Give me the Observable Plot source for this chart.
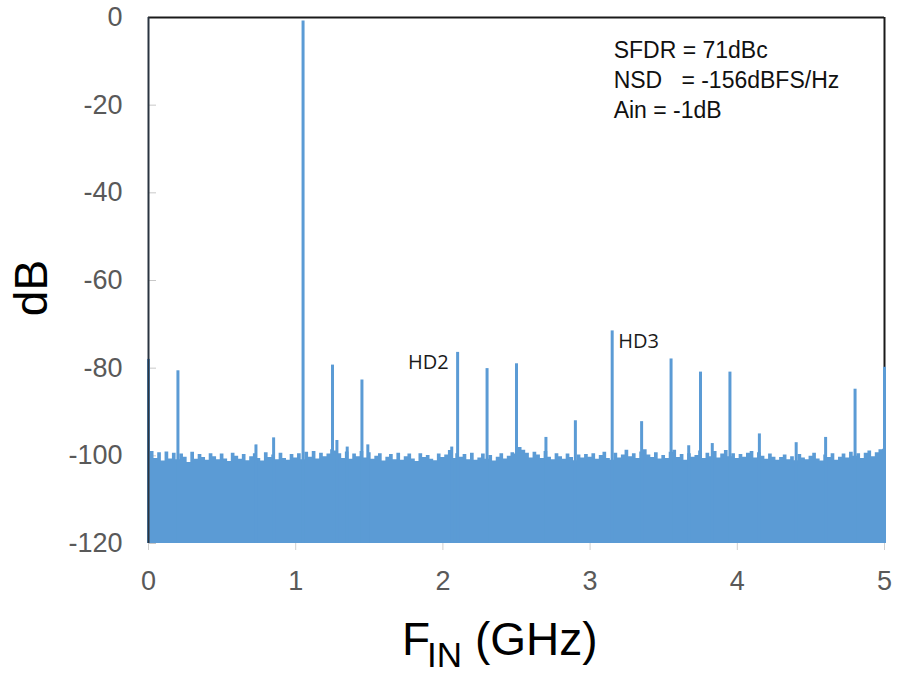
<!DOCTYPE html>
<html><head><meta charset="utf-8">
<script src="https://cdn.jsdelivr.net/npm/d3@7"></script>
<script src="https://cdn.jsdelivr.net/npm/@observablehq/plot@0.6"></script>
<style>
html,body{margin:0;padding:0;background:#fff;}
#chart{width:900px;height:692px;}
</style></head><body><div id="chart"></div>
<script>
// Spurs (tones) : frequency in GHz and level in dB
const spurFreqGHz = [0, 0.2, 0.73, 0.85, 1.05, 1.25, 1.28, 1.35, 1.45, 1.49, 2.06, 2.1, 2.3, 2.5, 2.7, 2.9, 3.15, 3.35, 3.55, 3.67, 3.75, 3.83, 3.95, 4.15, 4.4, 4.6, 4.8, 5];
const spurLevelDb = [-78, -80.6, -97.5, -95.9, -0.8, -79.3, -96.5, -98, -82.7, -97.5, -98, -76.4, -80.1, -79, -95.8, -92, -71.5, -92.2, -77.9, -97.7, -80.9, -97.2, -80.9, -95, -97, -95.8, -84.8, -79.8];

// Noise floor, one reading every 0.025 GHz from 0 to 5 GHz
const noiseStepGHz = 0.025;
const noiseLevelDb = [
  -96.5, -99.0, -100.6, -99.3, -101.2, -99.1, -100.7, -99.4, -100.9, -99.6, -100.3, -101.5, -99.2, -100.8, -99.7, -100.4, -101.0, -99.5, -100.2, -100.9,
  -99.6, -100.7, -101.3, -99.4, -100.1, -100.8, -99.7, -101.1, -100.2, -99.5, -100.6, -101.2, -99.3, -100.4, -99.8, -100.9, -99.4, -100.6, -101.0, -99.7,
  -100.5, -99.5, -100.9, -99.2, -100.3, -99.0, -100.7, -99.4, -100.2, -99.6, -98.6, -98.9, -99.5, -100.6, -99.1, -100.8, -99.6, -100.2, -99.0, -100.5,
  -99.3, -100.8, -100.1, -99.5, -101.2, -100.3, -99.7, -100.9, -99.4, -101.0, -100.2, -99.6, -100.7, -101.3, -99.5, -100.4, -99.9, -100.8, -101.1, -99.6,
  -100.4, -99.8, -98.8, -100.6, -99.5, -100.3, -99.7, -100.9, -99.4, -101.0, -100.5, -99.6, -100.8, -99.9, -101.2, -100.3, -99.5, -100.7, -100.1, -99.3,
  -99.6, -98.1, -98.7, -99.4, -100.5, -99.2, -99.8, -100.6, -99.0, -100.3, -100.9, -99.5, -100.2, -100.8, -99.6, -100.4, -101.1, -99.8, -100.5, -99.7,
  -100.3, -99.5, -100.8, -99.9, -99.2, -100.6, -101.0, -99.4, -100.5, -99.8, -98.7, -100.2, -99.5, -100.6, -99.1, -98.6, -99.8, -100.4, -99.3, -100.7,
  -99.9, -100.6, -99.2, -98.7, -100.4, -99.7, -101.0, -99.5, -100.3, -99.9, -98.9, -100.6, -99.4, -100.2, -99.0, -100.5, -99.6, -98.8, -100.2, -99.5,
  -100.6, -99.7, -100.3, -99.4, -99.0, -100.5, -99.3, -100.1, -100.8, -99.6, -100.3, -101.0, -100.4, -99.8, -100.9, -100.2, -101.1, -99.7, -100.5, -100.9,
  -100.1, -99.4, -100.7, -101.2, -99.8, -100.4, -99.5, -101.0, -100.3, -99.6, -100.5, -99.2, -100.1, -99.5, -100.6, -99.4, -98.9, -100.2, -99.3, -98.6,
  -98.5
];

const harmonicNames = ["HD2", "HD3"];
const harmonicFreqGHz = [2.1, 3.15];

const annotationLines = ["SFDR = 71dBc", "NSD\u00a0\u00a0\u00a0= -156dBFS/Hz", "Ain = -1dB"];

const xTicks = [0, 1, 2, 3, 4, 5];
const yTicks = [-120, -100, -80, -60, -40, -20, 0];

const blue = "#5b9bd5";
const noise = noiseLevelDb.map((v, i) => ({f: +(i * noiseStepGHz).toFixed(3), db: v}));
const spurs = spurFreqGHz.map((f, i) => ({f, db: spurLevelDb[i]}));
const harm = harmonicNames.map((name, i) => ({
  name, f: harmonicFreqGHz[i], db: spurLevelDb[spurFreqGHz.indexOf(harmonicFreqGHz[i])]
}));

const chart = Plot.plot({
  width: 900, height: 692,
  marginLeft: 148, marginRight: 16, marginTop: 17, marginBottom: 149,
  style: {fontFamily: "'Liberation Sans', Arial, sans-serif", background: "#fff", overflow: "visible"},
  x: {domain: [0, 5]},
  y: {domain: [-120, 0]},
  marks: [
    Plot.axisY({ticks: yTicks, tickSize: -8, stroke: "#c8c8c8", tickFormat: () => "", label: null}),
    Plot.ruleY([0], {stroke: "#1a1a1a", strokeWidth: 2}),
    Plot.ruleX([5], {stroke: "#1a1a1a", strokeWidth: 2}),
    Plot.areaY(noise, {x: "f", y1: -120, y2: "db", curve: "step", fill: blue}),
    Plot.ruleX(spurs, {x: "f", y1: -120, y2: "db", stroke: blue, strokeWidth: 3}),
    Plot.ruleX([0], {stroke: "#2a3440", strokeWidth: 2}),
    Plot.axisX({ticks: xTicks, tickFormat: d => String(d), tickSize: 7, stroke: "#d0d0d0", fill: "#595959", fontSize: 27, tickPadding: 20, label: null}),
    Plot.axisY({ticks: yTicks, tickFormat: d => String(d), tickSize: 0, tickPadding: 26, fill: "#595959", fontSize: 27, label: null}),
    Plot.text(harm.filter(d => d.name === "HD2"), {x: "f", y: "db", text: "name", textAnchor: "end", lineAnchor: "bottom", dx: -9, dy: 17, fontSize: 20, fontFamily: "'Open Sans', sans-serif", fill: "#1a1a1a"}),
    Plot.text(harm.filter(d => d.name === "HD3"), {x: "f", y: "db", text: "name", textAnchor: "start", lineAnchor: "bottom", dx: 6, dy: 17, fontSize: 20, fontFamily: "'Open Sans', sans-serif", fill: "#1a1a1a"}),
    Plot.text([annotationLines.join("\n")], {x: 3.16, y: -4.4, textAnchor: "start", lineAnchor: "top", lineHeight: 1.3, fontSize: 23, fill: "#111"})
  ]
});

document.getElementById("chart").appendChild(chart);

const svg = d3.select(chart);
// y-axis title
svg.append("text")
  .attr("transform", "translate(47,288) rotate(-90)")
  .attr("text-anchor", "middle")
  .attr("font-family", "'Liberation Sans', Arial, sans-serif")
  .attr("font-size", 46)
  .attr("fill", "#000")
  .text("dB");
// x-axis title with subscript
const xt = svg.append("text")
  .attr("x", 402).attr("y", 655)
  .attr("text-anchor", "start")
  .attr("font-family", "'Liberation Sans', Arial, sans-serif")
  .attr("font-size", 46)
  .attr("fill", "#000");
xt.append("tspan").text("F");
xt.append("tspan").attr("font-size", 35).attr("dy", 12).attr("dx", -3).text("IN");
xt.append("tspan").attr("dy", -12).text(" (GHz)");
</script>
</body></html>
